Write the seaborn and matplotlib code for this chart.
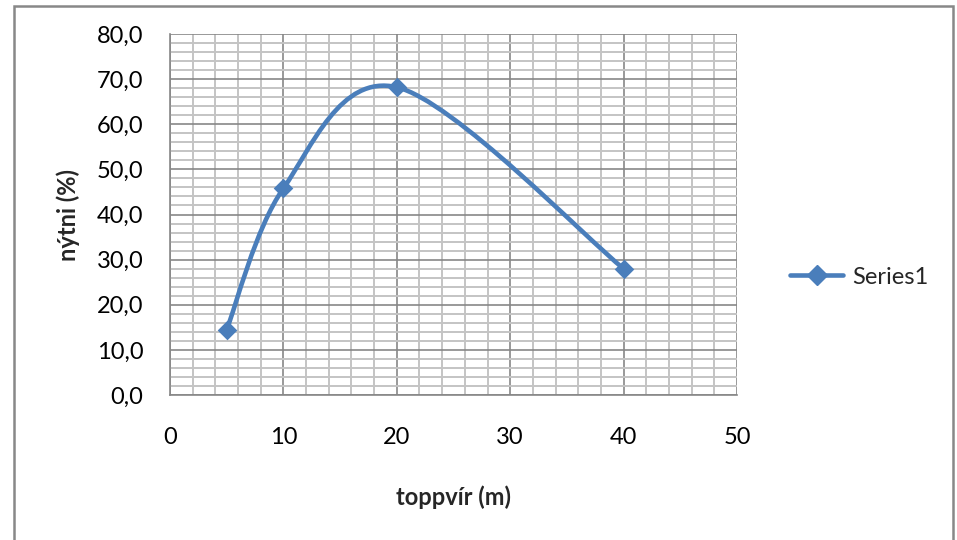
import numpy as np
import pandas as pd
import matplotlib
matplotlib.use("Agg")
import matplotlib.pyplot as plt
from matplotlib.path import Path
from matplotlib.patches import PathPatch, Rectangle
from matplotlib.lines import Line2D
from matplotlib.ticker import MultipleLocator, FuncFormatter
import seaborn as sns

# ---- data ----
toppvir = [5, 10, 20, 40]
nytni = [14.5, 45.8, 68.2, 28.0]
series_name = "Series1"
x_label = "toppvír (m)"
y_label = "nýtni (%)"

COLOR = "#4A7EBB"
FONT = ["Lato", "DejaVu Sans"]
FS = 17

sns.set_style("white")
plt.rcParams["font.family"] = FONT

df = pd.DataFrame({"x": toppvir, "y": nytni})

fig = plt.figure(figsize=(9.57, 5.4), dpi=100)
L, R, T, B = 170, 737, 34, 395
ax = fig.add_axes([L / 957, 1 - B / 540, (R - L) / 957, (B - T) / 540])

# outer chart border
fig.patches.append(Rectangle((13.5 / 957, -0.01), (953 - 13.5) / 957, 1 - 5.5 / 540 + 0.01,
                             transform=fig.transFigure, fill=False,
                             edgecolor="#888888", linewidth=1.8, zorder=0))

ax.set_xlim(0, 50)
ax.set_ylim(0, 80)
ax.xaxis.set_major_locator(MultipleLocator(10))
ax.xaxis.set_minor_locator(MultipleLocator(2))
ax.yaxis.set_major_locator(MultipleLocator(10))
ax.yaxis.set_minor_locator(MultipleLocator(2))
ax.grid(which="minor", color="#C4C4C4", linewidth=1.4, zorder=0)
ax.grid(which="major", color="#878787", linewidth=1.2, zorder=0)
ax.set_axisbelow(True)

for s in ["top", "right"]:
    ax.spines[s].set_visible(False)
for s in ["left", "bottom"]:
    ax.spines[s].set_color("#878787")
    ax.spines[s].set_linewidth(1.2)

ax.tick_params(which="major", direction="out", length=6, width=1.2, color="#878787",
               labelsize=FS, labelcolor="black")
ax.tick_params(which="minor", length=0)
ax.xaxis.set_tick_params(pad=17)
ax.yaxis.set_tick_params(pad=13)
ax.yaxis.set_major_formatter(FuncFormatter(lambda v, p: f"{v:.1f}".replace(".", ",")))
ax.xaxis.set_major_formatter(FuncFormatter(lambda v, p: f"{v:.0f}"))

# Excel-style smoothed line (cubic Bezier through the data points)
pts = np.column_stack([df["x"].to_numpy(float), df["y"].to_numpy(float)])
verts = [tuple(pts[0])]
codes = [Path.MOVETO]
n = len(pts)
for i in range(n - 1):
    p0 = pts[i - 1] if i > 0 else pts[i]
    p1 = pts[i]
    p2 = pts[i + 1]
    p3 = pts[i + 2] if i + 2 < n else pts[i + 1]
    c1 = p1 + (p2 - p0) / 6.0
    c2 = p2 - (p3 - p1) / 6.0
    verts += [tuple(c1), tuple(c2), tuple(p2)]
    codes += [Path.CURVE4] * 3
ax.add_patch(PathPatch(Path(verts, codes), facecolor="none", edgecolor=COLOR,
                       linewidth=3.3, capstyle="round", joinstyle="round", zorder=3))

sns.scatterplot(data=df, x="x", y="y", marker="D", s=100, color=COLOR,
                edgecolor=COLOR, linewidth=0, zorder=4, ax=ax, legend=False)

ax.set_xlabel(x_label, fontsize=FS, fontweight="bold", va="center")
ax.xaxis.set_label_coords(0.5, (B - 497) / (B - T))
ax.set_ylabel(y_label, fontsize=FS, fontweight="bold", va="center")
ax.yaxis.set_label_coords((68 - L) / (R - L), (B - 215) / (B - T))

handle = Line2D([], [], color=COLOR, linewidth=3.3, marker="D", markersize=10,
                markerfacecolor=COLOR, markeredgecolor=COLOR)
fig.legend([handle], [series_name], loc="center left",
           bbox_to_anchor=(790 / 957, 1 - 277 / 540), frameon=False,
           borderpad=0, borderaxespad=0,
           fontsize=FS, handlelength=2.25, handletextpad=0.4)

fig.savefig("out.png", dpi=100)
